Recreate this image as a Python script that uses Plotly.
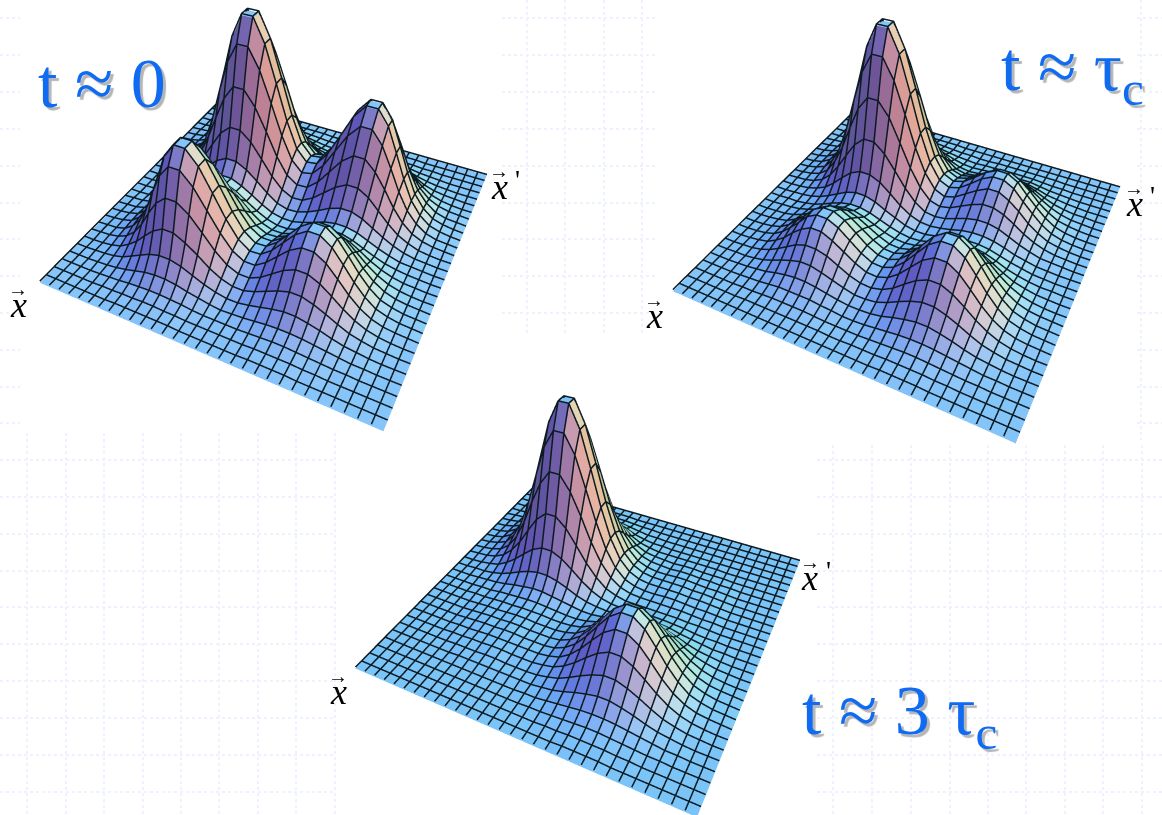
import numpy as np
import plotly.graph_objects as go

W, H = 1162, 815

# surface heights, row = steps along x, column = steps along x'
z_t0 = [
    [0]*31,
    [0,0,0,0,0,0,0,1,1,1,1,1,1,0,0,0,0,0,0,1,1,1,1,0,0,0,0,0,0,0,0],
    [0,0,0,0,0,1,1,2,2,3,3,2,2,1,1,1,1,1,1,2,2,2,2,1,1,0,0,0,0,0,0],
    [0,0,0,0,1,2,3,5,6,7,7,6,5,3,2,2,2,2,3,4,5,5,4,3,2,1,1,0,0,0,0],
    [0,0,0,1,2,4,7,11,15,17,17,15,11,8,5,3,4,5,7,9,10,10,9,7,5,3,1,1,0,0,0],
    [0,0,1,2,4,8,15,22,29,33,33,29,22,15,10,7,7,10,14,18,21,21,18,14,9,5,3,1,0,0,0],
    [0,0,1,3,7,15,25,38,50,58,58,50,39,26,17,12,12,17,24,31,36,36,31,24,16,9,5,2,1,0,0],
    [0,1,2,5,11,22,38,58,76,87,87,76,58,39,25,18,18,25,36,47,54,54,47,36,24,14,7,3,1,0,0],
    [0,1,2,6,15,29,50,76,100,115,115,100,76,52,33,24,24,34,48,62,71,71,62,47,31,18,9,4,2,1,0],
    [0,1,3,7,17,33,58,87,115,131,131,115,88,60,38,27,28,39,55,71,81,81,71,54,36,21,10,5,2,1,0],
    [0,1,3,7,17,33,58,87,115,131,131,115,88,60,38,27,28,39,55,71,81,81,71,54,36,21,10,5,2,1,0],
    [0,1,2,6,15,29,50,76,100,115,115,100,76,52,33,24,24,34,48,62,71,71,62,47,31,18,9,4,2,1,0],
    [0,1,2,5,11,22,39,59,77,88,88,77,59,40,25,18,19,26,37,48,55,55,48,36,24,14,7,3,1,0,0],
    [0,0,1,3,8,16,27,41,54,62,62,54,41,28,18,13,13,18,26,34,39,39,34,26,17,10,5,2,1,0,0],
    [0,0,1,2,6,11,19,29,38,44,44,38,29,20,13,9,9,13,19,24,28,28,24,18,12,7,4,2,1,0,0],
    [0,0,1,2,5,11,18,28,36,42,42,36,28,19,12,9,9,13,18,24,27,27,24,18,12,7,3,2,1,0,0],
    [0,0,1,3,7,14,25,37,49,56,56,49,38,26,16,12,13,18,25,33,38,38,33,25,17,10,5,2,1,0,0],
    [0,1,2,5,11,22,39,58,77,88,88,77,59,40,26,19,20,28,40,52,60,60,52,39,26,15,8,3,1,0,0],
    [0,1,3,7,17,33,57,85,112,129,129,112,86,58,37,28,29,41,59,77,88,88,76,58,38,22,11,5,2,1,0],
    [0,1,4,9,22,43,74,112,147,169,169,147,113,77,49,36,39,54,77,100,115,115,100,76,50,29,15,6,2,1,0],
    [0,1,4,11,25,49,85,128,169,194,194,169,129,88,56,42,44,62,88,115,131,131,115,87,58,33,17,7,3,1,0],
    [0,1,4,11,25,49,85,128,169,194,194,169,129,88,56,42,44,62,88,115,131,131,115,87,58,33,17,7,3,1,0],
    [0,1,4,9,22,43,74,112,147,169,169,147,113,77,49,36,39,54,77,100,115,115,100,76,50,29,15,6,2,1,0],
    [0,1,3,7,16,32,56,85,111,128,128,111,85,58,37,28,29,41,58,76,87,87,76,58,38,22,11,5,2,1,0],
    [0,1,2,5,11,22,37,56,74,85,85,74,57,39,25,18,19,27,39,50,58,58,50,38,25,15,7,3,1,0,0],
    [0,0,1,3,6,12,22,32,43,49,49,43,33,22,14,11,11,16,22,29,33,33,29,22,15,8,4,2,1,0,0],
    [0,0,1,1,3,6,11,16,22,25,25,22,16,11,7,5,6,8,11,15,17,17,15,11,7,4,2,1,0,0,0],
    [0,0,0,1,1,3,5,7,9,11,11,9,7,5,3,2,2,3,5,6,7,7,6,5,3,2,1,0,0,0,0],
    [0,0,0,0,1,1,2,3,4,4,4,4,3,2,1,1,1,1,2,2,3,3,2,2,1,1,0,0,0,0,0],
    [0,0,0,0,0,0,1,1,1,1,1,1,1,1,0,0,0,0,1,1,1,1,1,1,0,0,0,0,0,0,0],
    [0]*31,
]

z_tau = [
    [0]*31,
    [0,0,0,0,0,0,0,0,0,0,0,0,0,0,0,0,0,0,0,1,1,1,1,0,0,0,0,0,0,0,0],
    [0,0,0,0,0,0,1,1,1,1,1,1,1,1,0,0,1,1,1,2,2,2,2,1,1,0,0,0,0,0,0],
    [0,0,0,0,0,1,1,2,3,3,3,3,2,1,1,1,1,2,3,4,5,5,4,3,2,1,1,0,0,0,0],
    [0,0,0,0,1,2,3,5,7,7,7,7,5,4,2,2,3,5,7,9,10,10,9,7,5,3,1,1,0,0,0],
    [0,0,0,1,2,4,6,10,13,15,15,13,10,7,5,5,6,9,14,18,21,21,18,14,9,5,3,1,0,0,0],
    [0,0,1,1,3,6,11,17,22,26,26,22,17,12,8,8,10,16,24,31,36,36,31,24,16,9,5,2,1,0,0],
    [0,0,1,2,5,10,17,25,33,38,38,34,26,18,13,12,16,24,36,47,54,54,47,36,24,14,7,3,1,0,0],
    [0,0,1,3,6,13,22,34,44,51,51,44,34,24,17,16,21,32,47,62,71,71,62,47,31,18,9,4,2,1,0],
    [0,0,1,3,7,15,26,38,51,58,58,51,39,27,19,18,24,37,54,71,81,81,71,54,36,21,10,5,2,1,0],
    [0,0,1,3,7,15,26,38,51,58,58,51,39,27,19,18,24,37,54,71,81,81,71,54,36,21,10,5,2,1,0],
    [0,0,1,3,6,13,22,34,44,51,51,44,34,24,17,16,21,32,47,62,71,71,62,47,31,18,9,4,2,1,0],
    [0,0,1,2,5,10,17,26,35,40,40,35,27,19,13,12,16,24,36,47,54,54,47,36,24,14,7,3,1,0,0],
    [0,0,1,2,4,8,13,20,26,30,30,26,20,14,10,9,11,17,25,32,37,37,32,24,16,9,5,2,1,0,0],
    [0,0,1,1,3,6,11,17,22,25,25,22,17,12,8,6,7,11,16,21,24,24,21,16,10,6,3,1,1,0,0],
    [0,0,1,2,4,8,14,21,28,32,32,28,21,15,9,6,6,9,12,16,18,18,16,12,8,5,2,1,0,0,0],
    [0,0,1,3,7,13,23,35,46,52,52,46,35,23,14,9,8,10,13,17,19,19,17,13,8,5,2,1,0,0,0],
    [0,1,2,5,11,22,38,57,75,86,86,75,57,38,23,14,12,14,19,24,27,27,24,18,12,7,3,2,1,0,0],
    [0,1,3,7,16,33,56,85,112,128,128,112,85,57,35,21,17,20,27,34,39,39,34,26,17,10,5,2,1,0,0],
    [0,1,4,9,22,43,74,112,147,169,169,147,112,75,46,28,22,26,35,44,51,51,44,34,22,13,6,3,1,0,0],
    [0,1,4,11,25,49,85,128,169,194,194,169,129,86,52,32,26,30,40,51,58,58,51,38,26,15,7,3,1,0,0],
    [0,1,4,11,25,49,85,128,169,194,194,169,129,86,52,32,26,30,40,51,58,58,51,38,26,15,7,3,1,0,0],
    [0,1,4,9,22,43,74,112,147,169,169,147,112,75,46,28,22,26,35,44,51,51,44,34,22,13,6,3,1,0,0],
    [0,1,3,7,16,32,56,85,111,128,128,111,85,57,35,21,17,20,26,34,38,38,33,25,17,10,5,2,1,0,0],
    [0,1,2,5,11,21,37,56,74,85,85,74,56,38,23,14,11,13,18,22,25,25,22,17,11,6,3,1,1,0,0],
    [0,0,1,3,6,12,22,33,43,49,49,43,33,22,13,8,6,7,10,13,15,15,13,10,6,4,2,1,0,0,0],
    [0,0,1,1,3,6,11,16,21,25,25,21,16,11,7,4,3,4,5,7,7,7,7,5,3,2,1,0,0,0,0],
    [0,0,0,1,1,3,5,7,9,11,11,9,7,5,3,2,1,2,2,3,3,3,3,2,1,1,0,0,0,0,0],
    [0,0,0,0,1,1,2,3,4,4,4,4,3,2,1,1,0,0,1,1,1,1,1,1,1,0,0,0,0,0,0],
    [0,0,0,0,0,0,1,1,1,1,1,1,1,1,0,0,0,0,0,0,0,0,0,0,0,0,0,0,0,0,0],
    [0]*31,
]

z_3tau = [
    [0]*31,
    [0,0,0,0,0,0,0,0,0,0,0,0,0,0,0,0,0,0,0,1,1,1,1,0,0,0,0,0,0,0,0],
    [0,0,0,0,0,0,0,0,0,0,0,0,0,0,0,0,0,1,1,2,2,2,2,1,1,0,0,0,0,0,0],
    [0,0,0,0,0,0,0,0,0,0,0,0,0,0,0,1,1,2,3,4,5,5,4,3,2,1,1,0,0,0,0],
    [0,0,0,0,0,0,0,0,0,0,0,0,0,0,1,1,3,5,7,9,10,10,9,7,5,3,1,1,0,0,0],
    [0,0,0,0,0,0,0,1,1,1,1,1,1,1,1,3,5,9,14,18,21,21,18,14,9,5,3,1,0,0,0],
    [0,0,0,0,0,0,1,1,1,2,2,1,1,1,2,5,9,16,24,31,36,36,31,24,16,9,5,2,1,0,0],
    [0,0,0,0,0,1,1,2,2,3,3,2,2,2,4,7,14,24,36,47,54,54,47,36,24,14,7,3,1,0,0],
    [0,0,0,0,0,1,1,2,3,3,3,3,3,3,5,9,18,31,47,62,71,71,62,47,31,18,9,4,2,1,0],
    [0,0,0,0,0,1,2,3,3,4,4,3,3,3,5,11,21,36,54,71,81,81,71,54,36,21,10,5,2,1,0],
    [0,0,0,0,0,1,2,3,3,4,4,3,3,3,5,11,21,36,54,71,81,81,71,54,36,21,10,5,2,1,0],
    [0,0,0,0,0,1,2,2,3,4,4,3,3,3,5,9,18,31,47,62,71,71,62,47,31,18,9,4,2,1,0],
    [0,0,0,0,1,1,2,3,3,4,4,4,3,3,4,7,14,24,36,47,54,54,47,36,24,14,7,3,1,0,0],
    [0,0,0,0,1,1,3,4,5,6,6,5,4,3,3,5,9,16,24,31,36,36,31,24,16,9,5,2,1,0,0],
    [0,0,0,1,2,3,5,8,10,12,12,10,8,6,4,4,6,9,14,18,21,21,18,14,9,5,3,1,0,0,0],
    [0,0,1,1,3,6,11,17,22,25,25,22,17,11,7,5,4,5,7,10,11,11,10,7,5,3,1,1,0,0,0],
    [0,0,1,3,6,13,22,33,43,49,49,43,33,22,13,7,4,3,4,5,6,6,5,4,2,1,1,0,0,0,0],
    [0,1,2,5,11,22,37,56,74,85,85,74,56,37,22,11,6,3,3,3,3,3,3,2,2,1,0,0,0,0,0],
    [0,1,3,7,16,32,56,85,111,128,128,111,85,56,33,17,8,4,3,3,3,3,3,2,1,1,0,0,0,0,0],
    [0,1,4,9,22,43,74,111,147,168,168,147,111,74,43,22,10,5,3,3,4,4,3,2,2,1,0,0,0,0,0],
    [0,1,4,11,25,49,85,128,169,194,194,169,128,85,49,25,12,6,4,4,4,4,3,3,2,1,0,0,0,0,0],
    [0,1,4,11,25,49,85,128,169,194,194,169,128,85,49,25,12,6,4,4,4,4,3,3,2,1,0,0,0,0,0],
    [0,1,4,9,22,43,74,111,147,168,168,147,111,74,43,22,10,5,3,3,4,4,3,2,2,1,0,0,0,0,0],
    [0,1,3,7,16,32,56,85,111,128,128,111,85,56,32,17,8,4,3,2,3,3,2,2,1,1,0,0,0,0,0],
    [0,1,2,5,11,21,37,56,74,85,85,74,56,37,21,11,5,3,2,1,2,2,1,1,1,0,0,0,0,0,0],
    [0,0,1,3,6,12,22,33,43,49,49,43,33,22,12,6,3,1,1,1,1,1,1,1,0,0,0,0,0,0,0],
    [0,0,1,1,3,6,11,16,21,25,25,21,16,11,6,3,1,1,0,0,0,0,0,0,0,0,0,0,0,0,0],
    [0,0,0,1,1,3,5,7,9,11,11,9,7,5,3,1,1,0,0,0,0,0,0,0,0,0,0,0,0,0,0],
    [0,0,0,0,1,1,2,3,3,4,4,3,3,2,1,1,0,0,0,0,0,0,0,0,0,0,0,0,0,0,0],
    [0,0,0,0,0,0,0,1,1,1,1,1,1,0,0,0,0,0,0,0,0,0,0,0,0,0,0,0,0,0,0],
    [0]*31,
]

grid_steps = list(range(31))

# colour settings
Z_MAX = 200
LAMP_BASE = np.array([0.38, 0.33, 0.45])
LAMP_GAIN = np.array([0.54, 0.59, 0.53])
LAMP_POWER = np.array([2.0, 1.4, 1.2])
SLOPE_SOFTEN = 0.75
LINE_COL = "#0c1a22"
LINE_LIFT = 0.012
BLUE = "#0f6bf2"
SHADOW = "3px 3px 1px #b5b5b5"
GRID_COL = "#edf2fe"

# cameras: azimuth, elevation, distance, side and up shift, z aspect, then left, top, size in px
CAM_T0 = dict(az=0.455, el=0.821, d=1.631, tx=0.002, ty=-0.272, za=0.554, left=31, top=0, size=504)
CAM_TAU = dict(az=0.466, el=0.802, d=1.638, tx=-0.017, ty=-0.247, za=0.559, left=657, top=0, size=505)
CAM_3TAU = dict(az=0.455, el=0.653, d=1.957, tx=0.003, ty=0.028, za=0.595, left=305, top=230, size=585)


def view_basis(az, el):
    e = np.array([np.sin(az) * np.cos(el), -np.cos(az) * np.cos(el), np.sin(el)])
    r = np.array([np.cos(az), np.sin(az), 0.0])
    return e, r, np.cross(e, r)


def face_colors(z, cam):
    # old Mathematica style lighting: red, green and blue lamps fixed to the viewer
    z = np.array(z, dtype=float) * cam["za"] / Z_MAX * SLOPE_SOFTEN
    e, r, u = view_basis(cam["az"], cam["el"])
    lamps = [(1, 0, 1), (1, 1, 1), (0, 1, 1)]
    lamps = [np.array(l) / np.linalg.norm(l) for l in lamps]
    lamps = [l[0] * r + l[1] * u + l[2] * e for l in lamps]
    colors = []
    for j in range(30):
        for i in range(30):
            gx = (z[j][i + 1] + z[j + 1][i + 1] - z[j][i] - z[j + 1][i]) / 2 * 30
            gy = (z[j + 1][i] + z[j + 1][i + 1] - z[j][i] - z[j][i + 1]) / 2 * 30
            n = np.array([-gx, -gy, 1.0])
            n = n / np.linalg.norm(n)
            lit = np.array([max(0, n @ l) for l in lamps])
            c = LAMP_BASE + LAMP_GAIN * lit ** LAMP_POWER
            col = "rgb(%d,%d,%d)" % tuple(int(255 * min(1, v)) for v in c)
            colors += [col, col]
    return colors


def mesh_lines(z, cam):
    # pushed toward the viewer so the wires are not half buried in the faces
    e = view_basis(cam["az"], cam["el"])[0]
    dx, dy, dz = LINE_LIFT * e[0] * 30, LINE_LIFT * e[1] * 30, LINE_LIFT * e[2] * Z_MAX / cam["za"]
    xs, ys, zs = [], [], []
    for j in grid_steps:
        xs += [i + dx for i in grid_steps] + [None]
        ys += [j + dy] * 31 + [None]
        zs += [v + dz for v in z[j]] + [None]
    for i in grid_steps:
        xs += [i + dx] * 31 + [None]
        ys += [j + dy for j in grid_steps] + [None]
        zs += [z[j][i] + dz for j in grid_steps] + [None]
    return xs, ys, zs


def add_surface(fig, z, scene, cam):
    vx, vy, vz, ti, tj, tk = [], [], [], [], [], []
    for j in grid_steps:
        for i in grid_steps:
            vx.append(i)
            vy.append(j)
            vz.append(z[j][i])
    for j in range(30):
        for i in range(30):
            p = j * 31 + i
            ti += [p, p]
            tj += [p + 1, p + 32]
            tk += [p + 32, p + 31]
    fig.add_trace(go.Mesh3d(x=vx, y=vy, z=vz, i=ti, j=tj, k=tk,
                            facecolor=face_colors(z, cam), flatshading=True,
                            lighting=dict(ambient=1, diffuse=0, specular=0, fresnel=0, roughness=1),
                            hoverinfo="skip", showscale=False, scene=scene))
    xs, ys, zs = mesh_lines(z, cam)
    fig.add_trace(go.Scatter3d(x=xs, y=ys, z=zs, mode="lines",
                               line=dict(color=LINE_COL, width=3),
                               hoverinfo="skip", showlegend=False, scene=scene))


def scene_layout(cam):
    hidden = dict(visible=False)
    e, r, u = view_basis(cam["az"], cam["el"])
    c = cam["tx"] * r + cam["ty"] * u
    eye = c + cam["d"] * e
    left, top, size = cam["left"], cam["top"], cam["size"]
    return dict(
        domain=dict(x=[left / W, (left + size) / W], y=[1 - (top + size) / H, 1 - top / H]),
        xaxis=dict(hidden, range=[0, 30]),
        yaxis=dict(hidden, range=[0, 30]),
        zaxis=dict(hidden, range=[0, Z_MAX]),
        aspectmode="manual",
        aspectratio=dict(x=1, y=1, z=cam["za"]),
        bgcolor="rgba(0,0,0,0)",
        camera=dict(center=dict(x=c[0], y=c[1], z=c[2]),
                    eye=dict(x=eye[0], y=eye[1], z=eye[2]),
                    up=dict(x=0, y=0, z=1)),
    )


fig = go.Figure()
add_surface(fig, z_t0, "scene", CAM_T0)
add_surface(fig, z_tau, "scene2", CAM_TAU)
add_surface(fig, z_3tau, "scene3", CAM_3TAU)

# faint squared paper behind the plots
shapes = []


def grid_patch(xs, ys, x0, x1, y0, y1):
    for x in xs:
        shapes.append(dict(type="line", xref="paper", yref="paper", layer="below",
                           x0=x / W, x1=x / W, y0=1 - y0 / H, y1=1 - y1 / H,
                           line=dict(color=GRID_COL, width=2, dash="dot")))
    for y in ys:
        shapes.append(dict(type="line", xref="paper", yref="paper", layer="below",
                           x0=x0 / W, x1=x1 / W, y0=1 - y / H, y1=1 - y / H,
                           line=dict(color=GRID_COL, width=2, dash="dot")))


top_rows = [18, 55, 92, 129, 166, 203, 239, 276, 313, 350, 387, 423]
low_rows = [460, 497, 534, 571, 607, 644, 681, 718, 755, 792]
grid_patch([], top_rows, 0, 20, 0, 0)
grid_patch([27, 66, 104, 143, 181, 219, 258, 296, 335], low_rows, 0, 335, 433, 815)
grid_patch([527, 565, 604, 642], top_rows[:9], 502, 655, 0, 336)
grid_patch([1141], top_rows, 1137, 1162, 0, 440)
grid_patch([833, 872, 911, 950, 988, 1026, 1065, 1103, 1142], low_rows, 817, 1162, 445, 815)


def label(text, x, y, size, color="black", family="Liberation Serif", shadow=None, anchor="left"):
    font = dict(family=family, size=size, color=color)
    if shadow:
        font["shadow"] = shadow
    return dict(text=text, x=x / W, y=1 - y / H, xref="paper", yref="paper",
                xanchor=anchor, yanchor="middle", showarrow=False, font=font)


annotations = [
    label("t ≈ 0", 36, 84, 70, BLUE, shadow=SHADOW),
    label("t ≈ τ<sub>c</sub>", 999, 72, 70, BLUE, shadow=SHADOW),
    label("t ≈ 3 τ<sub>c</sub>", 800, 716, 70, BLUE, shadow=SHADOW),
]
for x, y in [(18, 305), (654, 316), (338, 692)]:
    annotations.append(label("<i>x</i>", x, y, 36, anchor="center"))
    annotations.append(label("→", x, y - 16, 20, anchor="center"))
for x, y in [(499, 187), (1134, 204), (810, 578)]:
    annotations.append(label("<i>x</i>", x, y, 36, anchor="center"))
    annotations.append(label("→", x, y - 16, 20, anchor="center"))
    annotations.append(label("'", x + 18, y - 8, 28, anchor="center"))

fig.update_layout(
    width=W, height=H,
    margin=dict(l=0, r=0, t=0, b=0),
    paper_bgcolor="white",
    plot_bgcolor="white",
    showlegend=False,
    shapes=shapes,
    annotations=annotations,
    scene=scene_layout(CAM_T0),
    scene2=scene_layout(CAM_TAU),
    scene3=scene_layout(CAM_3TAU),
)

# the page's default body margin would push the figure 8px off the window
fig.write_html("out.html", config={"displayModeBar": False}, post_script="document.body.style.margin='0';")
